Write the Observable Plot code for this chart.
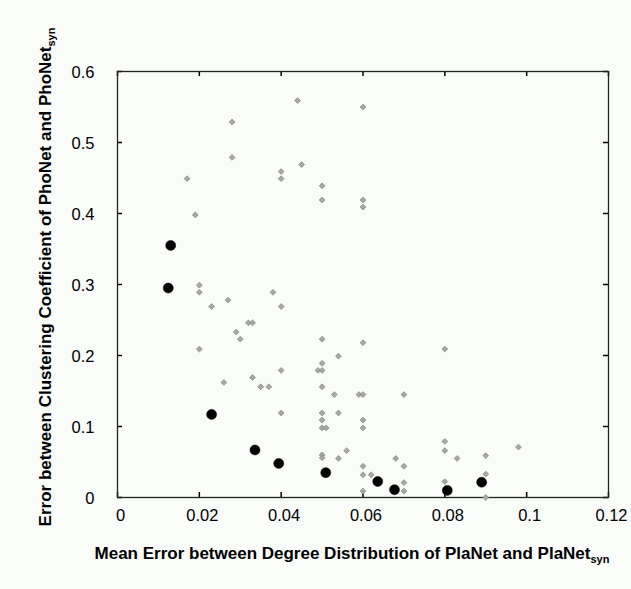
<!DOCTYPE html>
<html><head><meta charset="utf-8">
<script src="https://cdn.jsdelivr.net/npm/d3@7"></script>
<script src="https://cdn.jsdelivr.net/npm/@observablehq/plot@0.6"></script>
<style>
body{margin:0;background:#fafcfa;}
#chart{width:631px;height:589px;}
</style></head>
<body><div id="chart"></div>
<script>
// Tick values and labels
const xTicks = [0, 0.02, 0.04, 0.06, 0.08, 0.1, 0.12];
const xTickLabels = ["0", "0.02", "0.04", "0.06", "0.08", "0.1", "0.12"];
const yTicks = [0, 0.1, 0.2, 0.3, 0.4, 0.5, 0.6];
const yTickLabels = ["0", "0.1", "0.2", "0.3", "0.4", "0.5", "0.6"];

// Gray diamonds (synthetic networks)
const grayX = [0.044, 0.060, 0.028, 0.028, 0.045, 0.017, 0.040, 0.040, 0.050, 0.050, 0.060, 0.060, 0.019,
  0.020, 0.020, 0.023, 0.027, 0.038, 0.040, 0.032, 0.033, 0.029, 0.030, 0.020, 0.040, 0.033, 0.026, 0.035, 0.037, 0.040,
  0.050, 0.060, 0.080, 0.054, 0.050, 0.049, 0.050, 0.050, 0.053, 0.059, 0.060, 0.070, 0.050, 0.054, 0.050, 0.060,
  0.050, 0.051, 0.060, 0.080, 0.080, 0.083, 0.056, 0.050, 0.050, 0.054, 0.068, 0.060, 0.070, 0.060, 0.062, 0.070,
  0.060, 0.070, 0.080, 0.090, 0.098, 0.090, 0.090];
const grayY = [0.559, 0.550, 0.529, 0.479, 0.469, 0.449, 0.459, 0.449, 0.439, 0.419, 0.419, 0.409, 0.398,
  0.299, 0.289, 0.269, 0.278, 0.289, 0.269, 0.246, 0.246, 0.233, 0.223, 0.209, 0.179, 0.169, 0.162, 0.156, 0.156, 0.119,
  0.223, 0.218, 0.209, 0.199, 0.189, 0.179, 0.179, 0.156, 0.145, 0.145, 0.145, 0.145, 0.119, 0.119, 0.109, 0.109,
  0.098, 0.098, 0.098, 0.079, 0.066, 0.055, 0.066, 0.060, 0.056, 0.055, 0.055, 0.044, 0.044, 0.032, 0.032, 0.021,
  0.009, 0.009, 0.0225, 0.059, 0.071, 0.033, 0.000];

// Black circles
const blackX = [0.0124, 0.013, 0.023, 0.0336, 0.0394, 0.0509, 0.0636, 0.0677, 0.0806, 0.089];
const blackY = [0.295, 0.355, 0.117, 0.067, 0.048, 0.035, 0.0225, 0.011, 0.010, 0.0215];

const xLabel = "Mean Error between Degree Distribution of PlaNet and PlaNet";
const yLabel = "Error between Clustering Coefficient of PhoNet and PhoNet";
const labelSub = "syn";

const gray = grayX.map((x, i) => ({x, y: grayY[i]}));
const black = blackX.map((x, i) => ({x, y: blackY[i]}));
const xFmt = new Map(xTicks.map((t, i) => [t, xTickLabels[i]]));
const yFmt = new Map(yTicks.map((t, i) => [t, yTickLabels[i]]));

const W = 631, H = 589, mL = 117, mT = 71, mR = 23, mB = 92;
const pw = W - mL - mR, ph = H - mT - mB, tick = 5;
const font = "'Liberation Sans', Arial, sans-serif";

const plot = Plot.plot({
  width: W, height: H,
  marginLeft: mL, marginTop: mT, marginRight: mR, marginBottom: mB,
  style: {background: "#fafcfa", fontFamily: font, fontSize: "16.5px", color: "#000"},
  x: {domain: [0, 0.12]},
  y: {domain: [0, 0.6]},
  marks: [
    Plot.axisX(xTicks, {tickSize: 0, tickPadding: 12, tickFormat: d => xFmt.get(d), label: null, fontSize: 16.5, dx: 3}),
    Plot.axisY(yTicks, {tickSize: 0, tickPadding: 23, tickFormat: d => yFmt.get(d), label: null, fontSize: 16.5, dy: 1}),
    Plot.ruleX(xTicks, {x: d => d, insetTop: ph - tick, stroke: "#000", strokeWidth: 1.5}),
    Plot.ruleX(xTicks, {x: d => d, insetBottom: ph - tick, stroke: "#000", strokeWidth: 1.5}),
    Plot.ruleY(yTicks, {y: d => d, insetRight: pw - tick, stroke: "#000", strokeWidth: 1.5}),
    Plot.ruleY(yTicks, {y: d => d, insetLeft: pw - tick, stroke: "#000", strokeWidth: 1.5}),
    Plot.frame({stroke: "#222", strokeWidth: 1.3}),
    Plot.dot(gray, {x: "x", y: "y", symbol: "diamond2", r: 2.6, fill: "#a8a8a8", stroke: "#8a8a8a", strokeWidth: 0.8}),
    Plot.dot(black, {x: "x", y: "y", r: 5, fill: "#000", stroke: "#000", strokeWidth: 0.5})
  ]
});

document.getElementById("chart").append(plot);

const svg = d3.select(plot);
const xl = svg.append("text")
  .attr("x", 352).attr("y", 559)
  .attr("text-anchor", "middle")
  .attr("font-family", font)
  .attr("font-weight", "bold").attr("font-size", 17).attr("fill", "#000");
xl.append("tspan").text(xLabel);
xl.append("tspan").attr("font-size", 11).attr("dy", 4).text(labelSub);

const yl = svg.append("text")
  .attr("transform", "translate(51,277) rotate(-90)")
  .attr("text-anchor", "middle")
  .attr("font-family", font)
  .attr("font-weight", "bold").attr("font-size", 17).attr("fill", "#000");
yl.append("tspan").text(yLabel);
yl.append("tspan").attr("font-size", 11).attr("dy", 4).text(labelSub);
</script>
</body></html>
